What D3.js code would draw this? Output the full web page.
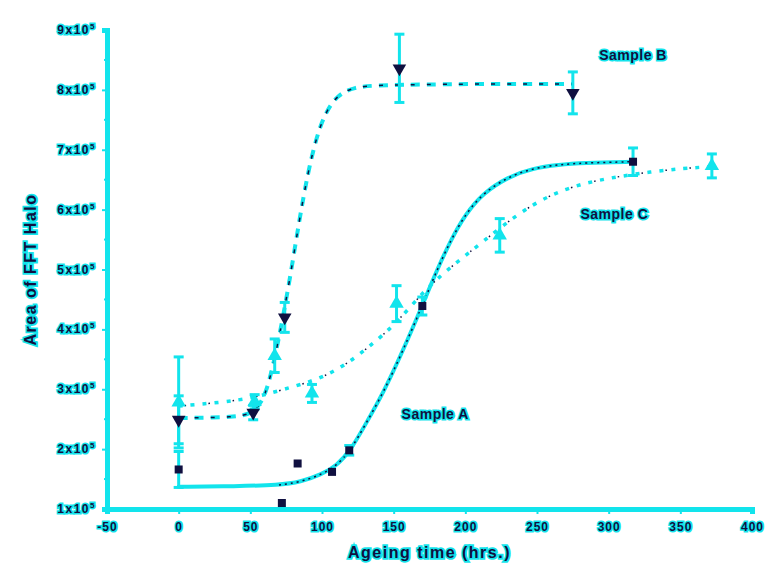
<!DOCTYPE html>
<html>
<head>
<meta charset="utf-8">
<script src="https://cdn.jsdelivr.net/npm/d3@7"></script>
<style>
  body { margin: 0; background: #fff; }
  text { font-family: "Liberation Sans", Arial, sans-serif; font-weight: bold; }
</style>
</head>
<body>
<div class="chartContainer"></div>
<script>
// sample A (squares, solid fit)
const aTime = [0, 72, 83, 107, 119, 170, 317];
const aArea = [1.66, 1.1, 1.76, 1.62, 1.98, 4.39, 6.8];
const aErr = [0.3, 0, 0, 0, 0.08, 0.15, 0.23];
// sample B (down triangles, dashed fit)
const bTime = [0, 52, 74, 154, 275];
const bArea = [2.49, 2.61, 4.2, 8.36, 7.95];
const bErr = [0.4, 0.12, 0.25, 0.57, 0.35];
// sample C (up triangles, dotted fit)
const cTime = [0, 53, 67, 93, 152, 224, 372];
const cArea = [2.78, 2.79, 3.56, 2.93, 4.43, 5.57, 6.73];
const cErr = [0.76, 0.12, 0.28, 0.15, 0.3, 0.28, 0.2];

// fitted curves
const aFitTime = [0, 40, 70, 85, 100, 110, 120, 130, 143, 156, 170, 180, 190, 200, 212, 230, 247, 265, 282, 317];
const aFitArea = [1.37, 1.38, 1.4, 1.45, 1.58, 1.72, 1.98, 2.4, 2.95, 3.62, 4.4, 4.98, 5.5, 5.92, 6.27, 6.55, 6.69, 6.75, 6.78, 6.8];
const bFitTime = [0, 40, 52, 60, 66, 72, 78, 84, 90, 96, 102, 110, 122, 140, 200, 275];
const bFitArea = [2.52, 2.53, 2.6, 2.85, 3.4, 4.1, 4.9, 5.8, 6.6, 7.2, 7.6, 7.9, 8.05, 8.08, 8.1, 8.1];
const cFitTime = [0, 30, 53, 72, 96, 115, 133, 152, 173, 194, 212, 236, 259, 282, 306, 329, 352, 373];
const cFitArea = [2.72, 2.78, 2.86, 2.99, 3.15, 3.38, 3.71, 4.1, 4.7, 5.12, 5.46, 5.92, 6.25, 6.44, 6.55, 6.63, 6.69, 6.72];

const xTicks = [-50, 0, 50, 100, 150, 200, 250, 300, 350, 400];
const yTicks = [1, 2, 3, 4, 5, 6, 7, 8, 9];

const cyan = '#12e4ec';
const ink = '#101040';
const width = 772, height = 578;

const svg = d3.select('.chartContainer')
  .append('svg')
  .attr('width', width)
  .attr('height', height);

const x = d3.scaleLinear().domain([-50, 400]).range([107, 752]);
const y = d3.scaleLinear().domain([1, 9]).range([509, 30]);

const zip = (t, v, e) => t.map((d, i) => ({ t: d, v: v[i], e: e ? e[i] : 0 }));

// axes
const xAxis = svg.append('g')
  .attr('transform', `translate(0,${y(1)})`)
  .call(d3.axisBottom(x).tickValues(xTicks).tickSize(5).tickFormat(d => String(d)));
const yAxis = svg.append('g')
  .attr('transform', `translate(${x(-50)},0)`)
  .call(d3.axisLeft(y).tickValues(yTicks).tickSize(5).tickFormat(''));

[xAxis, yAxis].forEach(g => {
  g.select('.domain').attr('stroke', cyan).attr('stroke-width', 5);
  g.selectAll('.tick line').attr('stroke', cyan).attr('stroke-width', 2);
});
xAxis.selectAll('.tick text')
  .attr('dy', '1.2em')
  .style('font-size', '12px')
  .style('letter-spacing', '1px')
  .attr('fill', ink)
  .attr('stroke', cyan).attr('stroke-width', 3).attr('paint-order', 'stroke');

// minor ticks
svg.append('g').selectAll('line')
  .data(d3.range(-25, 400, 50))
  .enter().append('line')
  .attr('x1', d => x(d)).attr('x2', d => x(d))
  .attr('y1', y(1)).attr('y2', y(1) + 3)
  .attr('stroke', cyan).attr('stroke-width', 2);
svg.append('g').selectAll('line')
  .data(d3.range(1.5, 9, 1))
  .enter().append('line')
  .attr('x1', x(-50)).attr('x2', x(-50) - 3)
  .attr('y1', d => y(d)).attr('y2', d => y(d))
  .attr('stroke', cyan).attr('stroke-width', 2);

// y tick labels with superscript
const yLab = svg.append('g').selectAll('text')
  .data(yTicks)
  .enter().append('text')
  .attr('x', x(-50) - 11)
  .attr('y', d => y(d) + 4)
  .attr('text-anchor', 'end')
  .style('font-size', '12px')
  .style('letter-spacing', '1.5px')
  .attr('fill', ink)
  .attr('stroke', cyan).attr('stroke-width', 3).attr('paint-order', 'stroke');
yLab.append('tspan').text(d => d + 'x10');
yLab.append('tspan').attr('dy', -5).style('font-size', '8px').text('5');

// axis titles
svg.append('text')
  .attr('x', x(175)).attr('y', 558)
  .attr('text-anchor', 'middle')
  .style('font-size', '16px')
  .style('letter-spacing', '1.5px')
  .attr('fill', ink)
  .attr('stroke', cyan).attr('stroke-width', 3.5).attr('paint-order', 'stroke')
  .text('Ageing time (hrs.)');
svg.append('text')
  .attr('transform', `translate(36,${y(5)}) rotate(-90)`)
  .attr('text-anchor', 'middle')
  .style('font-size', '16px')
  .style('letter-spacing', '1.5px')
  .attr('fill', ink)
  .attr('stroke', cyan).attr('stroke-width', 3.5).attr('paint-order', 'stroke')
  .text('Area of FFT Halo');

// fitted curves
const line = d3.line().x(d => x(d.t)).y(d => y(d.v)).curve(d3.curveBasis);
const aFit = zip(aFitTime, aFitArea);
const bFit = zip(bFitTime, bFitArea);
const cFit = zip(cFitTime, cFitArea);

svg.append('path').datum(aFit).attr('d', line)
  .attr('fill', 'none').attr('stroke', cyan).attr('stroke-width', 4).attr('stroke-linecap', 'round');
svg.append('path').datum(aFit.filter(d => d.t >= 70)).attr('d', line)
  .attr('fill', 'none').attr('stroke', ink).attr('stroke-width', 1.5).attr('stroke-dasharray', '2,4');

svg.append('path').datum(bFit).attr('d', line)
  .attr('fill', 'none').attr('stroke', cyan).attr('stroke-width', 4).attr('stroke-dasharray', '9,7');
svg.append('path').datum(bFit).attr('d', line)
  .attr('fill', 'none').attr('stroke', ink).attr('stroke-width', 1.5).attr('stroke-dasharray', '4,12');

svg.append('path').datum(cFit).attr('d', line)
  .attr('fill', 'none').attr('stroke', cyan).attr('stroke-width', 3.5).attr('stroke-dasharray', '4,8');
svg.append('path').datum(cFit).attr('d', line)
  .attr('fill', 'none').attr('stroke', ink).attr('stroke-width', 1.5).attr('stroke-dasharray', '1.5,22.5').attr('stroke-dashoffset', -6);

// error bars
function errorBars(data) {
  const g = svg.append('g').attr('stroke', cyan).attr('stroke-width', 3);
  const d = data.filter(p => p.e > 0);
  g.selectAll('.eb').data(d).enter().append('line')
    .attr('x1', p => x(p.t)).attr('x2', p => x(p.t))
    .attr('y1', p => y(p.v + p.e)).attr('y2', p => y(p.v - p.e));
  g.selectAll('.cap').data(d.flatMap(p => [p.v + p.e, p.v - p.e].map(v => ({ t: p.t, v }))))
    .enter().append('line')
    .attr('x1', p => x(p.t) - 5).attr('x2', p => x(p.t) + 5)
    .attr('y1', p => y(p.v)).attr('y2', p => y(p.v));
}
const aPts = zip(aTime, aArea, aErr);
const bPts = zip(bTime, bArea, bErr);
const cPts = zip(cTime, cArea, cErr);
errorBars(cPts);
errorBars(bPts);
errorBars(aPts);

// markers
svg.append('g').selectAll('path')
  .data(cPts).enter().append('path')
  .attr('d', d3.symbol(d3.symbolTriangle, 90))
  .attr('transform', d => `translate(${x(d.t)},${y(d.v)})`)
  .attr('fill', cyan);
svg.append('g').selectAll('path')
  .data(bPts).enter().append('path')
  .attr('d', d3.symbol(d3.symbolTriangle, 80))
  .attr('transform', d => `translate(${x(d.t)},${y(d.v)}) rotate(180)`)
  .attr('fill', ink);
svg.append('g').selectAll('rect')
  .data(aPts).enter().append('rect')
  .attr('x', d => x(d.t) - 4).attr('y', d => y(d.v) - 4)
  .attr('width', 8).attr('height', 8)
  .attr('fill', ink);

// sample labels
const labels = [
  { text: 'Sample B', t: 317, v: 8.5 },
  { text: 'Sample C', t: 304, v: 5.85 },
  { text: 'Sample A', t: 179, v: 2.5 }
];
svg.append('g').selectAll('text')
  .data(labels).enter().append('text')
  .attr('x', d => x(d.t)).attr('y', d => y(d.v))
  .attr('text-anchor', 'middle')
  .style('font-size', '14px')
  .style('letter-spacing', '0.5px')
  .attr('fill', ink)
  .attr('stroke', cyan).attr('stroke-width', 3).attr('paint-order', 'stroke')
  .text(d => d.text);
</script>
</body>
</html>
